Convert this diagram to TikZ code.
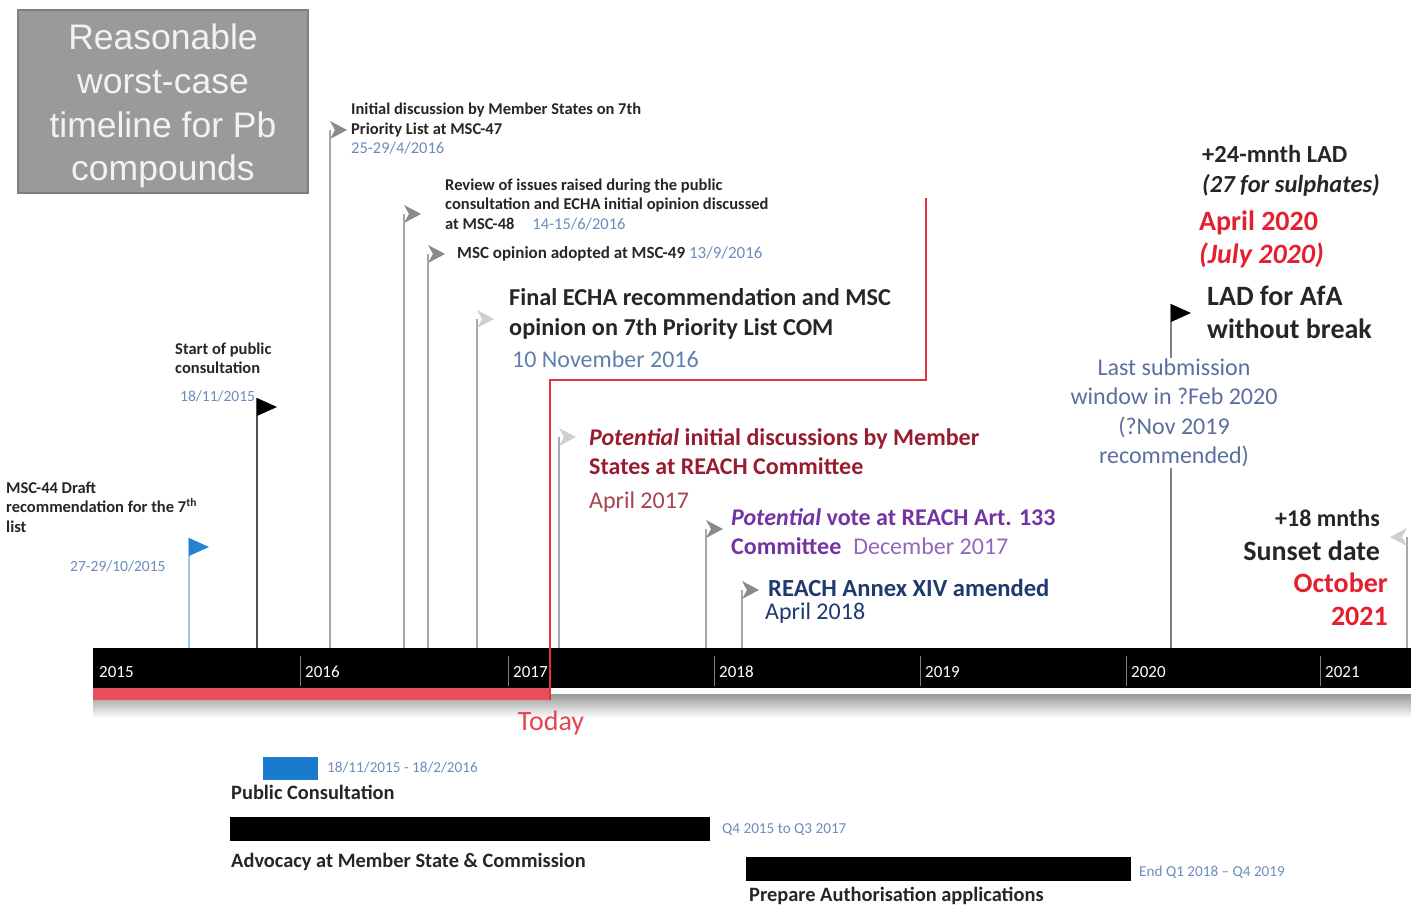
\documentclass[tikz,border=0pt]{standalone}
\usepackage{fontspec}
\setmainfont{Carlito}
\newfontfamily\titlefont{Liberation Sans}
\usetikzlibrary{calc}
\definecolor{ink}{HTML}{262626}
\definecolor{boxgray}{HTML}{9A9A9A}
\definecolor{boxedge}{HTML}{7E7E7E}
\definecolor{dateblue}{HTML}{6A8CBE}
\definecolor{comdate}{HTML}{5F7FA8}
\definecolor{stemgray}{HTML}{A8A8A8}
\definecolor{chevgray}{HTML}{8A8A8A}
\definecolor{chevpale}{HTML}{CFCFCF}
\definecolor{flagblue}{HTML}{2382D2}
\definecolor{stemblue}{HTML}{9CC6E8}
\definecolor{todayred}{HTML}{E2303E}
\definecolor{potred}{HTML}{981C30}
\definecolor{aprred}{HTML}{A8424C}
\definecolor{votepurple}{HTML}{7333A3}
\definecolor{votelight}{HTML}{9466BE}
\definecolor{annexblue}{HTML}{1F3A6E}
\definecolor{lastblue}{HTML}{5A6F9E}
\definecolor{ladred}{HTML}{E3202F}
\definecolor{pcblue}{HTML}{1A7ACC}
\newcommand{\fsz}[2]{\fontsize{#1}{#2}\selectfont}

\begin{document}
\begin{tikzpicture}[
  x=1pt,
  y=-1pt,
  titlebox/.style={fill=boxgray, draw=boxedge, line width=2pt, inner sep=0pt},
  titletext/.style={text=white!95!black, align=center, inner sep=0pt,
    font=\titlefont\fsz{35.5}{43.7}},
  smalltext/.style={text=ink, align=left, inner sep=0pt, font=\fsz{16.5}{19.8}\bfseries},
  smalldate/.style={text=dateblue, inner sep=0pt, font=\fsz{15.5}{18}},
  bigtext/.style={text=ink, align=left, inner sep=0pt, font=\fsz{24.3}{30}\bfseries},
  midtext/.style={align=left, inner sep=0pt, font=\fsz{24}{29}\bfseries},
  middate/.style={inner sep=0pt, font=\fsz{24}{29.3}},
  ladtext/.style={text=ink, align=left, inner sep=0pt, font=\fsz{28}{33}\bfseries},
  yearlabel/.style={text=white, anchor=west, inner sep=0pt, font=\fsz{17}{20}},
  yeartick/.style={draw=gray, line width=0.8pt},
  stem/.style={draw=stemgray, line width=1.2pt},
  todayline/.style={draw=todayred, line width=2.4pt},
  blackbar/.style={fill=black, inner sep=0pt, anchor=north west},
  barlabel/.style={text=ink, anchor=west, inner sep=0pt, font=\fsz{20.4}{24}\bfseries},
  bardate/.style={smalldate, anchor=west, font=\fsz{15.2}{18}},
  chevron/.pic={\path[pic actions] (0,-9) -- (17,0) -- (0,9) -- (5,0) -- cycle;}
]
  \useasboundingbox (0,0) rectangle (1411,907);

  % Title box.
  \node[titlebox, minimum width=290pt, minimum height=183pt] (title) at (163,101.5) {};
  \node[titletext] (titletext) at (163,106)
    {Reasonable\\worst-case\\timeline for Pb\\compounds};

  % Main time bar with its shadow and the elapsed part.
  \shade[top color=black!40, bottom color=white] (93,694) rectangle (1411,718);
  \node[blackbar, minimum width=1318pt, minimum height=40pt] (bar) at (93,648) {};
  \fill[todayred!85!white] (93,688) rectangle (551,700);
  \node[yearlabel] (y2015) at (99,672) {2015};
  \foreach \yr/\xx in {2016/300,2017/508,2018/714,2019/920,2020/1126,2021/1320} {
    \draw[yeartick] (\xx,656) -- (\xx,686);
    \node[yearlabel] (y\yr) at (\xx+5,672) {\yr};
  }

  % Event points.
  \coordinate (e44) at (189,538);
  \coordinate (epc) at (257,398);
  \coordinate (e47) at (330,130);
  \coordinate (e48) at (404,214);
  \coordinate (e49) at (428,254);
  \coordinate (ecom) at (477,319);
  \coordinate (erc) at (559,437);
  \coordinate (evote) at (706,529);
  \coordinate (eannex) at (742,590);
  \coordinate (elast) at (1171,304);
  \coordinate (esun) at (1407,537);

  % Stems down to the bar.
  \foreach \e in {e47,e48,e49,ecom,erc,evote,eannex,esun}
    \draw[stem] (\e) -- (\e |- bar.north);
  \draw[stem, draw=stemblue] (e44) -- (e44 |- bar.north);
  \draw[stem, draw=ink!80] (epc) -- (epc |- bar.north);
  \draw[stem, draw=gray] (elast) -- (elast |- bar.north);

  % Markers.
  \fill[flagblue] (e44) -- ++(20,9) -- ++(-20,9) -- cycle;
  \fill[black] (epc) -- ++(20,9) -- ++(-20,9) -- cycle;
  \fill[black] (elast) -- ++(20,9) -- ++(-20,9) -- cycle;
  \foreach \e in {e47,e48,e49,evote,eannex}
    \pic[fill=chevgray] at (\e) {chevron};
  \pic[fill=chevpale] at (ecom) {chevron};
  \pic[fill=chevpale] at (erc) {chevron};
  \pic[fill=chevpale, xscale=-1] at (esun) {chevron};

  % The red line to today.
  \coordinate (rtop) at (926,198);
  \coordinate (rturn) at (926,380);
  \coordinate (rleft) at (550,380);
  \coordinate (rbot) at (550,700);
  \draw[todayline] (rtop) -- (rturn) -- (rleft) -- (rbot);
  \node[text=todayred!90!white, inner sep=0pt, font=\fsz{28}{30}] (today) at (551,723) {Today};

  % Event labels, 2015-2016.
  \node[smalltext, anchor=north west] (t44) at (6,481.4)
    {MSC-44 Draft\\recommendation for the 7\textsuperscript{th}\\list};
  \node[smalldate, anchor=west] (d44) at (70,566) {27-29/10/2015};
  \node[smalltext, anchor=north west] (tpc) at (175,342.4)
    {Start of public\\consultation};
  \node[smalldate, anchor=west] (dpc) at (180,396) {18/11/2015};
  \node[smalltext, anchor=north west] (t47) at (351,102.4)
    {Initial discussion by Member States on 7th\\Priority List at MSC-47\\
     {\mdseries\color{dateblue}25-29/4/2016}};
  \node[smalltext, anchor=north west] (t48) at (445,178.4)
    {Review of issues raised during the public\\
     consultation and ECHA initial opinion discussed\\
     at MSC-48\hspace{18pt}{\mdseries\color{dateblue}14-15/6/2016}};
  \node[smalltext, anchor=west, font=\fsz{17}{20}\bfseries] (t49) at (457,254)
    {MSC opinion adopted at MSC-49\hspace{4pt}{\mdseries\color{dateblue}13/9/2016}};
  \node[bigtext, anchor=north west] (tcom) at (509,288.7)
    {Final ECHA recommendation and MSC\\opinion on 7th Priority List COM};
  \node[text=comdate, inner sep=0pt, anchor=west, font=\fsz{24}{28}] (dcom) at (512,359)
    {10 November 2016};

  % Event labels, 2017-2021.
  \node[midtext, text=potred, anchor=north west] (trc) at (589,428.8)
    {\textit{Potential} initial discussions by Member\\States at REACH Committee};
  \node[middate, text=aprred, anchor=west] (drc) at (589,502) {April 2017};
  \node[midtext, text=votepurple, anchor=north west] (tvote) at (731,508.8)
    {\textit{Potential} vote at REACH Art. 133\\
     Committee\hspace{12pt}{\mdseries\color{votelight}December 2017}};
  \node[midtext, text=annexblue, anchor=west, font=\fsz{24.6}{28}\bfseries] (tannex) at (768,588)
    {REACH Annex XIV amended};
  \node[middate, text=annexblue, anchor=west] (dannex) at (765,613) {April 2018};
  \node[middate, text=lastblue, align=center, anchor=north, fill=white, inner sep=1pt]
    (tlast) at (1174,357.8)
    {Last submission\\window in ?Feb 2020\\(?Nov 2019\\recommended)};
  \node[ladtext, anchor=north west] (tlad) at (1207,285.5) {LAD for AfA\\without break};
  \node[ladtext, anchor=north west, font=\fsz{24.5}{30}\bfseries] (t24) at (1202,144.7)
    {+24-mnth LAD\\\textit{(27 for sulphates)}};
  \node[ladtext, text=ladred, anchor=north west] (d24) at (1199,210.5)
    {April 2020\\\textit{(July 2020)}};
  \node[ladtext, anchor=east, font=\fsz{24}{28}\bfseries] (tsun) at (1380,518) {+18 mnths};
  \node[ladtext, anchor=east] (tsunset) at (1380,551) {Sunset date};
  \node[ladtext, text=ladred, align=right, anchor=north east] (dsun) at (1388,572.5)
    {October\\2021};

  % Activity bars below the time line.
  \node[fill=pcblue, inner sep=0pt, anchor=north west, minimum width=55pt, minimum height=23pt]
    (pcbar) at (263,757) {};
  \node[bardate] (dpcbar) at (327,768) {18/11/2015 - 18/2/2016};
  \node[barlabel] (tpcbar) at (231,792) {Public Consultation};
  \node[blackbar, minimum width=480pt, minimum height=24pt] (advbar) at (230,817) {};
  \node[bardate] (dadv) at (722,830) {Q4 2015 to Q3 2017};
  \node[barlabel] (tadv) at (231,862) {Advocacy at Member State \& Commission};
  \node[blackbar, minimum width=385pt, minimum height=24pt] (prepbar) at (746,857) {};
  \node[bardate] (dprep) at (1139,872) {End Q1 2018 -- Q4 2019};
  \node[barlabel] (tprep) at (749,896) {Prepare Authorisation applications};

\end{tikzpicture}
\end{document}
